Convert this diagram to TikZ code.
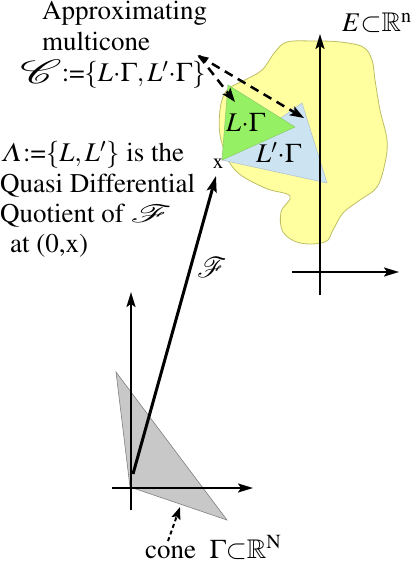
\documentclass[tikz,border=0pt]{standalone}
\usepackage[T1]{fontenc}
\usepackage{mathptmx}
\usepackage{amsmath,amssymb,mathrsfs}
\usetikzlibrary{arrows.meta}
\definecolor{blobfill}{RGB}{255,255,160}
\definecolor{blobline}{RGB}{190,190,100}
\definecolor{greenfill}{RGB}{150,240,100}
\definecolor{bluefill}{RGB}{204,228,242}
\definecolor{grayfill}{RGB}{200,200,200}
\newcommand{\bigC}{\raisebox{-2pt}{\scalebox{2.0}[1.35]{$\mathscr{C}$}}}
\newcommand{\wideF}{\scalebox{1.6}[1.0]{$\mathscr{F}$}}
\newcommand{\labF}{\scalebox{1.15}{$\mathscr{F}$}}
\newcommand{\sbs}{\mathord{\subset}}
\newcommand{\cd}{\mathord{\cdot}}
\tikzset{
  txt/.style={anchor=base west, inner sep=0pt, font=\fontsize{27}{31}\selectfont},
  axisarrow/.style={line width=2pt, -{Stealth[length=15pt,width=9pt,inset=3pt]}},
  mainarrow/.style={line width=3pt, -{Stealth[length=16pt,width=10pt,inset=3pt]}},
  dasharrow/.style={line width=2.5pt, dash pattern=on 9pt off 6pt, -{Stealth[length=14pt,width=10pt,inset=3pt]}},
  dotarrow/.style={line width=2pt, dash pattern=on 4pt off 3pt, -{Stealth[length=12pt,width=9pt,inset=2pt]}},
}
\begin{document}
\begin{tikzpicture}[x=1pt,y=-1pt]
\useasboundingbox (0,0) rectangle (413,585);
% blob E
\filldraw[fill=blobfill, draw=blobline, line width=0.8pt] plot[smooth cycle, tension=0.6] coordinates {
 (287,42) (313,41) (340,42) (363,47) (372,60) (375,80) (380,110) (387,140) (385,163)
 (377,187) (360,200) (343,213) (333,230) (325,242) (300,243) (283,232) (281,212)
 (290,196) (265,188) (235,170) (221,140) (220,110) (227,90) (245,80) (262,70) (275,52)};
% cones
\filldraw[fill=bluefill, draw=bluefill!70!gray, line width=0.6pt] (222,160) -- (302,103) -- (327,183) -- cycle;
\filldraw[fill=greenfill, draw=greenfill!70!gray, line width=0.6pt] (228,85) -- (295,127) -- (222,160) -- cycle;
\filldraw[fill=grayfill, draw=gray, line width=0.6pt] (116,372) -- (130,487) -- (227,520) -- cycle;
% upper axes
\coordinate (uvb) at (320,295); \coordinate (uvt) at (320,34);
\coordinate (uhl) at (292,272); \coordinate (uhr) at (399,272);
\draw[axisarrow] (uvb) -- (uvt);
\draw[axisarrow] (uhl) -- (uhr);
% lower axes
\coordinate (lvb) at (131,510); \coordinate (lvt) at (131,292);
\coordinate (lhl) at (112,488); \coordinate (lhr) at (253,488);
\draw[axisarrow] (lvb) -- (lvt);
\draw[axisarrow] (lhl) -- (lhr);
% map F
\coordinate (org) at (133,474);
\coordinate (xpt) at (216,176);
\draw[mainarrow] (org) -- (xpt);
% labels
\node[txt] (approx) at (42,20) {Approximating};
\node[txt] (multi) at (42,51) {multicone};
\node[txt] (cdef) at (20,82) {\bigC:=$\{L\cd\Gamma,L'\cd\Gamma\}$};
\node[txt] (lam) at (2,162) {$\varLambda$:=$\{L,L'\}$ is the};
\node[txt] (quasi) at (0,193) {Quasi Differential};
\node[txt] (quot) at (0,222) {Quotient of \wideF};
\node[txt] (at) at (10,252) {at (0,x)};
\node[txt] (elab) at (342,32) {$E\sbs\mathbb{R}^{\mathrm{n}}$};
\node[txt] (cone) at (145,558) {cone\ \ $\Gamma\sbs\mathbb{R}^{\mathrm{N}}$};
\node[txt] (lg) at (226,132) {$L\cd\Gamma$};
\node[txt] (lpg) at (256,163) {$L'\cd\Gamma$};
\node[inner sep=0pt, font=\fontsize{27}{31}\selectfont] (flab) at (212,267) {\labF};
\node[inner sep=0pt, font=\fontsize{21}{24}\selectfont] (xlab) at (218,164) {x};
% dashed arrows
\coordinate (ds) at (199,56);
\coordinate (g1) at (235,102);
\coordinate (b1) at (304,118);
\draw[dasharrow] (ds) -- (g1);
\draw[dasharrow] (ds) -- (b1);
\draw[line width=1pt, fill=black] (ds) -- ++(9,2) -- ++(-3,4) -- cycle;
% dotted arrow
\coordinate (dst) at (168,541);
\coordinate (den) at (180,507);
\draw[dotarrow] (dst) -- (den);
\end{tikzpicture}
\end{document}
